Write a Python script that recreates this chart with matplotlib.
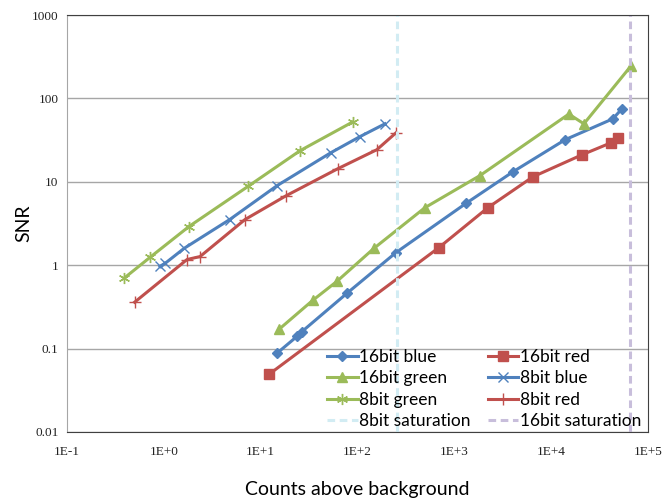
import numpy as np
import matplotlib
matplotlib.use('Agg')
import matplotlib.pyplot as plt
from matplotlib.ticker import FixedLocator, FixedFormatter, NullLocator

# 16 bit readouts
b16_x = [14.8, 23.8, 26.8, 78, 251, 1320, 4050, 14000, 43600, 54000]
b16_y = [0.088, 0.14, 0.16, 0.46, 1.42, 5.5, 13.2, 32, 57, 75]
g16_x = [15.5, 34.7, 61.5, 148, 499, 1850, 15300, 21900, 67000]
g16_y = [0.17, 0.38, 0.64, 1.59, 4.9, 11.9, 65, 49.7, 245]
r16_x = [12.2, 697, 2230, 6520, 20900, 41700, 49200]
r16_y = [0.049, 1.63, 4.9, 11.5, 21.1, 29.4, 33.8]

# 8 bit readouts
b8_x = [0.91, 1.03, 1.62, 4.8, 14.8, 53, 106, 193]
b8_y = [0.97, 1.05, 1.59, 3.53, 9.0, 22.3, 34.8, 49.7]
g8_x = [0.39, 0.72, 1.82, 7.4, 25.5, 90]
g8_y = [0.70, 1.24, 2.91, 8.8, 23.6, 52.5]
r8_x = [0.50, 1.74, 2.37, 6.9, 18.3, 63, 159, 251]
r8_y = [0.36, 1.17, 1.27, 3.53, 6.8, 14.4, 24.3, 38.8]

sat8 = 255
sat16 = 65535

xticks = [1e-1, 1e0, 1e1, 1e2, 1e3, 1e4, 1e5]
xlabels = ['1E-1', '1E+0', '1E+1', '1E+2', '1E+3', '1E+4', '1E+5']
yticks = [0.01, 0.1, 1, 10, 100, 1000]
ylabels = ['0.01', '0.1', '1', '10', '100', '1000']

blue = '#4F81BD'
red = '#C0504D'
green = '#9BBB59'

fig = plt.figure(figsize=(6.63, 5.04), dpi=100)
ax = fig.add_axes([0.101, 0.143, 0.876, 0.827])
ax.set_xscale('log')
ax.set_yscale('log')
ax.set_xlim(0.1, 1e5)
ax.set_ylim(0.01, 1000)

lw = 2.2
h_b16, = ax.plot(b16_x, b16_y, color=blue, lw=lw, marker='D', ms=5, label='16bit blue')
h_r16, = ax.plot(r16_x, r16_y, color=red, lw=lw, marker='s', ms=7, label='16bit red')
h_g16, = ax.plot(g16_x, g16_y, color=green, lw=lw, marker='^', ms=7, label='16bit green')
h_b8, = ax.plot(b8_x, b8_y, color=blue, lw=lw, marker='x', ms=7, mew=1, label='8bit blue')
h_g8, = ax.plot(g8_x, g8_y, color=green, lw=lw, marker=(6, 2, 0), ms=8, mew=1, label='8bit green')
h_r8, = ax.plot(r8_x, r8_y, color=red, lw=lw, marker='+', ms=8, mew=1, label='8bit red')
h_s8 = ax.axvline(sat8, color='#D2ECF3', lw=2.2, ls=(0, (2.5, 1.5)), label='8bit saturation')
h_s16 = ax.axvline(sat16, color='#C8BEDB', lw=2.2, ls=(0, (2.5, 1.5)), label='16bit saturation')

ax.yaxis.grid(True, color='#A6A6A6', lw=1)
ax.set_axisbelow(True)
ax.xaxis.set_major_locator(FixedLocator(xticks))
ax.xaxis.set_major_formatter(FixedFormatter(xlabels))
ax.yaxis.set_major_locator(FixedLocator(yticks))
ax.yaxis.set_major_formatter(FixedFormatter(ylabels))
ax.xaxis.set_minor_locator(NullLocator())
ax.yaxis.set_minor_locator(NullLocator())
ax.tick_params(length=0, labelsize=9.5, labelcolor='#222222')
ax.tick_params(axis='x', pad=10)
ax.tick_params(axis='y', pad=6)
for lab in ax.get_xticklabels() + ax.get_yticklabels():
    lab.set_family('Liberation Serif')

for side in ['top', 'right', 'bottom']:
    ax.spines[side].set_color('#404040')
ax.spines['left'].set_color('#A6A6A6')

ax.set_ylabel('SNR', fontsize=14, family='Lato', labelpad=0)
ax.set_xlabel('Counts above background', fontsize=14, family='Lato', labelpad=17)

handles = [h_b16, h_g16, h_g8, h_s8, h_r16, h_b8, h_r8, h_s16]
ax.legend(handles=handles, ncol=2, frameon=False, loc='upper left',
          bbox_to_anchor=(0.436, 0.215), prop={'family': 'Lato', 'size': 12.5},
          handlelength=1.75, handletextpad=0.08, columnspacing=1.0,
          labelspacing=0.3, borderaxespad=0)

fig.savefig('out.png', dpi=100)
